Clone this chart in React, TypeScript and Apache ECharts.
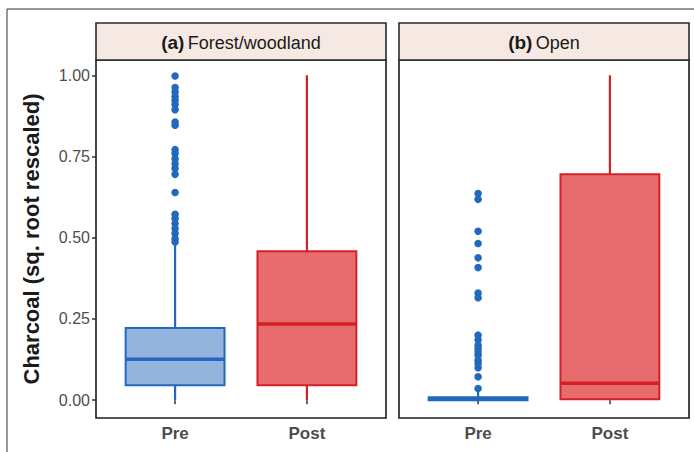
import React, { useEffect, useRef } from "react";
import * as echarts from "echarts";

const groups = ["Pre", "Post"];
const panelTags = ["(a)", "(b)"];
const panelNames = ["Forest/woodland", "Open"];
const yTicks = [0, 0.25, 0.5, 0.75, 1];
const yTitle = "Charcoal (sq. root rescaled)";

// [low whisker, q1, median, q3, high whisker]
const forestPre = [0, 0.046, 0.126, 0.222, 0.477];
const forestPost = [0, 0.046, 0.234, 0.458, 1.0];
const openPre = [0, 0.0, 0.004, 0.009, 0.03];
const openPost = [0, 0.003, 0.052, 0.695, 1.0];

const forestPreOutliers = [
  0.998, 0.962, 0.949, 0.935, 0.923, 0.91, 0.894, 0.856, 0.846, 0.771, 0.759,
  0.743, 0.728, 0.713, 0.695, 0.639, 0.572, 0.559, 0.544, 0.528, 0.513, 0.497,
  0.487,
];
const openPreOutliers = [
  0.636, 0.618, 0.52, 0.482, 0.438, 0.408, 0.33, 0.315, 0.2, 0.185, 0.169,
  0.159, 0.148, 0.138, 0.123, 0.113, 0.1, 0.072, 0.036,
];

const FONT = "Liberation Sans, Arial, Helvetica, sans-serif";
const BLUE = { line: "#2168be", fill: "#94b4dd" };
const RED = { line: "#d42029", fill: "#e86b6e" };
const boxColors = [BLUE, RED];

const PANEL_LEFT = [96, 399];
const PANEL_W = 290;
const PANEL_TOP = 60;
const PANEL_H = 358;
const STRIP_TOP = 23;

function renderBox(params: any, api: any) {
  const x = api.value(0);
  const lo = api.value(1);
  const q1 = api.value(2);
  const med = api.value(3);
  const q3 = api.value(4);
  const hi = api.value(5);
  const c = boxColors[params.dataIndex];
  const hw = 0.375;
  const tl = api.coord([x - hw, q3]);
  const br = api.coord([x + hw, q1]);
  const pLo = api.coord([x, lo]);
  const pHi = api.coord([x, hi]);
  const pQ1 = api.coord([x, q1]);
  const pQ3 = api.coord([x, q3]);
  const mL = api.coord([x - hw, med]);
  const mR = api.coord([x + hw, med]);
  return {
    type: "group",
    children: [
      {
        type: "line",
        shape: { x1: pLo[0], y1: pLo[1], x2: pQ1[0], y2: pQ1[1] },
        style: { stroke: c.line, lineWidth: 2.2 },
      },
      {
        type: "line",
        shape: { x1: pQ3[0], y1: pQ3[1], x2: pHi[0], y2: pHi[1] },
        style: { stroke: c.line, lineWidth: 2.2 },
      },
      {
        type: "rect",
        shape: { x: tl[0], y: tl[1], width: br[0] - tl[0], height: br[1] - tl[1] },
        style: { fill: c.fill, stroke: c.line, lineWidth: 2 },
      },
      {
        type: "line",
        shape: { x1: mL[0], y1: mL[1], x2: mR[0], y2: mR[1] },
        style: { stroke: c.line, lineWidth: 3.5 },
      },
    ],
  };
}

export default function App() {
  const ref = useRef<HTMLDivElement>(null);
  useEffect(() => {
    if (!ref.current) return;
    const chart = echarts.init(ref.current, null, { renderer: "svg" });
    const boxSets = [
      [forestPre, forestPost],
      [openPre, openPost],
    ];
    const outlierSets = [forestPreOutliers, openPreOutliers];

    const grids = PANEL_LEFT.map((left) => ({
      left,
      top: PANEL_TOP,
      width: PANEL_W,
      height: PANEL_H,
      show: true,
      backgroundColor: "#ffffff",
      borderColor: "#1a1a1a",
      borderWidth: 1.6,
    }));

    const xAxes = PANEL_LEFT.map((_, i) => ({
      type: "value",
      gridIndex: i,
      min: 0.4,
      max: 2.6,
      splitLine: { show: false },
      axisLine: { show: false },
      axisTick: {
        show: true,
        customValues: [1, 2],
        length: 4,
        lineStyle: { color: "#333333", width: 1.5 },
      },
      axisLabel: {
        customValues: [1, 2],
        formatter: (v: number) => groups[Math.round(v) - 1] ?? "",
        fontSize: 17,
        fontWeight: "bold",
        color: "#4d4d4d",
        fontFamily: FONT,
        margin: 7,
      },
    }));

    const yAxes = PANEL_LEFT.map((_, i) => ({
      type: "value",
      gridIndex: i,
      min: -0.055,
      max: 1.047,
      splitLine: { show: false },
      axisLine: { show: false },
      axisTick: {
        show: i === 0,
        customValues: yTicks,
        length: 4,
        lineStyle: { color: "#333333", width: 1.5 },
      },
      axisLabel: {
        show: i === 0,
        customValues: yTicks,
        formatter: (v: number) => v.toFixed(2),
        fontSize: 16,
        color: "#4d4d4d",
        fontFamily: FONT,
        margin: 6,
      },
      name: i === 0 ? yTitle : "",
      nameLocation: "middle",
      nameGap: 54,
      nameTextStyle: {
        fontSize: 22,
        fontWeight: "bold",
        color: "#1a1a1a",
        fontFamily: FONT,
      },
    }));

    const series: any[] = [];
    boxSets.forEach((set, i) => {
      series.push({
        type: "custom",
        xAxisIndex: i,
        yAxisIndex: i,
        renderItem: renderBox,
        encode: { x: 0, y: [1, 2, 3, 4, 5] },
        data: set.map((vals, j) => [j + 1, ...vals]),
        z: 2,
      });
      series.push({
        type: "scatter",
        xAxisIndex: i,
        yAxisIndex: i,
        symbol: "circle",
        symbolSize: 7.5,
        itemStyle: { color: BLUE.line, opacity: 1 },
        data: outlierSets[i].map((v) => [1, v]),
        z: 3,
      });
    });

    const graphics: any[] = [
      {
        type: "rect",
        shape: { x: 7, y: 9, width: 720, height: 480 },
        style: { fill: "none", stroke: "#333333", lineWidth: 1 },
        silent: true,
      },
    ];
    PANEL_LEFT.forEach((left, i) => {
      graphics.push({
        type: "rect",
        shape: { x: left, y: STRIP_TOP, width: PANEL_W, height: PANEL_TOP - STRIP_TOP },
        style: { fill: "#f6e9e3", stroke: "#2a2a2a", lineWidth: 1.6 },
        z: 10,
      });
      graphics.push({
        type: "text",
        x: left + PANEL_W / 2,
        y: (STRIP_TOP + PANEL_TOP) / 2 + 1,
        style: {
          text: `{b|${panelTags[i]}} {r|${panelNames[i]}}`,
          rich: {
            b: { fontSize: 19, fontWeight: "bold", fill: "#1a1a1a", fontFamily: FONT },
            r: { fontSize: 18, fill: "#1a1a1a", fontFamily: FONT },
          },
          align: "center",
          verticalAlign: "middle",
        },
        z: 11,
      });
    });

    chart.setOption({
      animation: false,
      backgroundColor: "#ffffff",
      grid: grids,
      xAxis: xAxes,
      yAxis: yAxes,
      series,
      graphic: graphics,
    });
    return () => chart.dispose();
  }, []);
  return (
    <div
      ref={ref}
      style={{ position: "fixed", left: 0, top: 0, width: 694, height: 452 }}
    />
  );
}
